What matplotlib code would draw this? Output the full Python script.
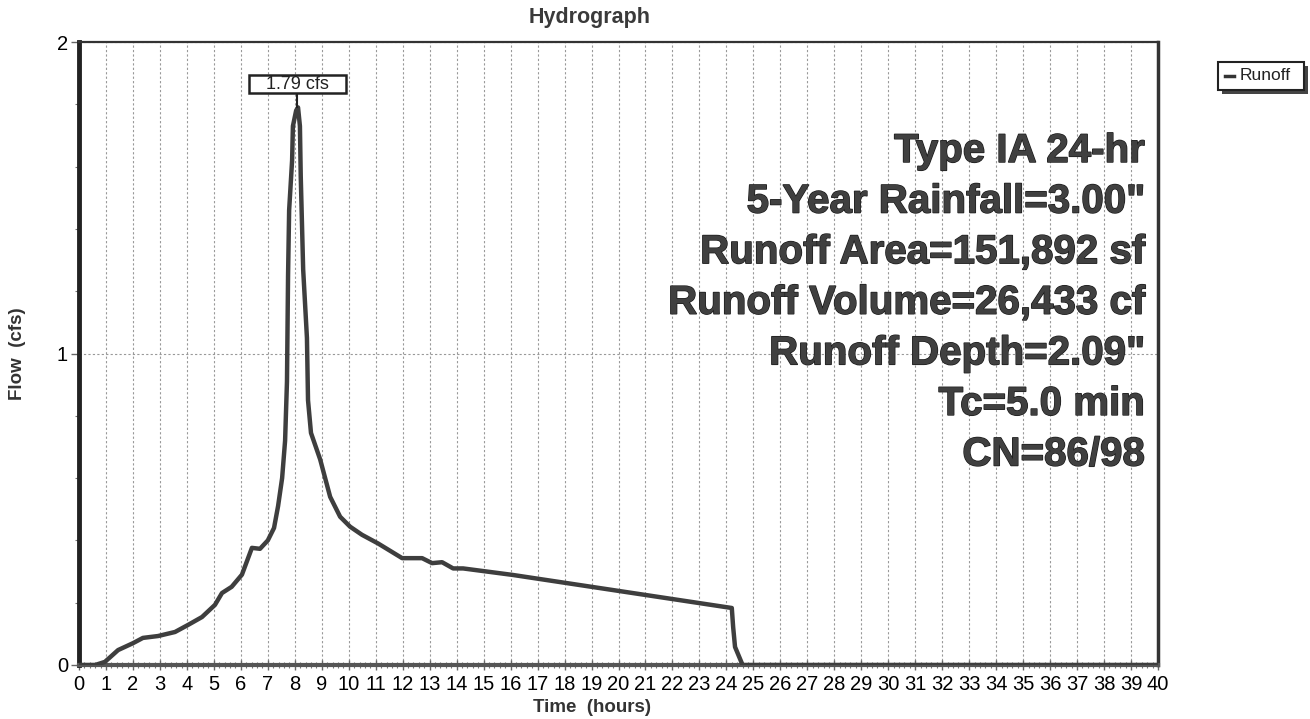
import numpy as np
import matplotlib.pyplot as plt
import matplotlib.patheffects as pe
from matplotlib.patches import FancyBboxPatch, Rectangle

plt.rcParams['font.family'] = ['Liberation Sans', 'DejaVu Sans']

# Runoff hydrograph
time_hr = [0.0, 0.6, 0.96, 1.45, 2.0, 2.37, 2.93, 3.56, 4.05, 4.56, 5.04, 5.30,
           5.66, 6.04, 6.41, 6.71, 7.0, 7.23, 7.38, 7.53, 7.64, 7.71, 7.75, 7.79,
           7.90, 7.93, 8.05, 8.12, 8.19, 8.22, 8.31, 8.45, 8.49, 8.60, 8.94, 9.31,
           9.68, 10.05, 10.49, 11.09, 11.98, 12.72, 13.09, 13.46, 13.87, 14.24, 16.09,
           24.2, 24.25, 24.32, 24.6, 40.0]
flow_cfs = [0.0, 0.0, 0.01, 0.048, 0.07, 0.087, 0.093, 0.106, 0.129, 0.154, 0.193, 0.231,
            0.251, 0.29, 0.376, 0.373, 0.40, 0.44, 0.51, 0.60, 0.72, 0.91, 1.25, 1.46,
            1.62, 1.73, 1.78, 1.79, 1.73, 1.57, 1.27, 1.05, 0.85, 0.745, 0.66, 0.54,
            0.476, 0.444, 0.418, 0.39, 0.343, 0.343, 0.327, 0.33, 0.31, 0.31, 0.289,
            0.183, 0.122, 0.058, 0.0, 0.0]

peak_time = 8.1
peak_flow = 1.79
peak_label = "1.79 cfs"

info_lines = ["Type IA 24-hr", "5-Year Rainfall=3.00\"", "Runoff Area=151,892 sf",
              "Runoff Volume=26,433 cf", "Runoff Depth=2.09\"", "Tc=5.0 min", "CN=86/98"]

x_ticks = list(range(0, 41))
y_ticks = [0, 1, 2]

fig = plt.figure(figsize=(13.1, 7.19), dpi=100)
ax = fig.add_axes([79 / 1310, 54 / 719, 1079 / 1310, 623 / 719])

ax.plot(time_hr, flow_cfs, color='#3e3e3e', lw=3.2, solid_joinstyle='round', zorder=3)

ax.set_xlim(0, 40)
ax.set_ylim(0, 2)
ax.set_xticks(x_ticks)
ax.set_xticks(np.arange(0, 40.01, 0.2), minor=True)
ax.set_yticks(y_ticks)
ax.set_yticks(np.arange(0, 2.01, 0.2), minor=True)
ax.tick_params(axis='x', which='major', direction='inout', length=7, width=1, color='#666666',
               labelsize=14.5, pad=4)
ax.tick_params(axis='x', which='minor', direction='inout', length=4, width=0.8, color='#777777')
ax.tick_params(axis='y', which='major', direction='out', length=6, width=1, color='#666666',
               labelsize=14.5, pad=2)
ax.tick_params(axis='y', which='minor', direction='out', length=3, width=0.8, color='#777777')

ax.grid(True, which='major', axis='x', color='#999999', ls=(0, (2, 2)), lw=0.8)
ax.grid(True, which='major', axis='y', color='#999999', ls=(0, (2, 2)), lw=0.8)

ax.spines['left'].set_linewidth(3.5)
ax.spines['left'].set_color('#222222')
ax.spines['right'].set_linewidth(2.5)
ax.spines['right'].set_color('#333333')
ax.spines['top'].set_linewidth(1.6)
ax.spines['top'].set_color('#333333')
ax.spines['bottom'].set_linewidth(3)
ax.spines['bottom'].set_color('#555555')

fig.text(592 / 1310, (719 - 707) / 719, "Time  (hours)", fontsize=13.5, fontweight='bold',
         color='#333333', ha='center', va='center')
fig.text(18 / 1310, (719 - 354) / 719, "Flow  (cfs)", rotation=90, fontsize=13.5,
         fontweight='bold', color='#333333', ha='center', va='center')
fig.text(590 / 1310, (719 - 18) / 719, "Hydrograph", fontsize=15.5, fontweight='bold',
         color='#3a3a3a', ha='center', va='center')

# peak label box with leader line
box_w, box_h, box_y = 3.56, 0.058, 1.865
ax.add_patch(Rectangle((peak_time - box_w / 2, box_y - box_h / 2), box_w, box_h,
                       fc='white', ec='#222222', lw=1.8, zorder=5))
ax.text(peak_time, box_y, peak_label, ha='center', va='center', fontsize=13,
        color='#222222', zorder=6)
ax.plot([peak_time, peak_time], [peak_flow, box_y - box_h / 2], color='#222222', lw=1.5,
        zorder=4)

# big info text block
for i, line in enumerate(info_lines):
    ax.text(39.5, 1.65 - i * 0.1624, line, ha='right', va='center', fontsize=29,
            fontweight='bold', color='#404040',
            path_effects=[pe.withStroke(linewidth=1.0, foreground='#1a1a1a')])

# legend box with shadow
shadow = FancyBboxPatch((1222 / 1310, (719 - 94) / 719), 86 / 1310, 28 / 719,
                        boxstyle='square,pad=0', transform=fig.transFigure,
                        fc='#444444', ec='none')
box = FancyBboxPatch((1218 / 1310, (719 - 90) / 719), 86 / 1310, 28 / 719,
                     boxstyle='square,pad=0', transform=fig.transFigure,
                     fc='white', ec='#222222', lw=1.5)
fig.patches.extend([shadow, box])
fig.add_artist(plt.Line2D([1225 / 1310, 1234 / 1310], [(719 - 76) / 719] * 2,
                          transform=fig.transFigure, color='#333333', lw=2.5))
fig.text(1240 / 1310, (719 - 76) / 719, "Runoff", fontsize=12.5, color='#222222',
         ha='left', va='center')

fig.savefig("out.png", dpi=100)
